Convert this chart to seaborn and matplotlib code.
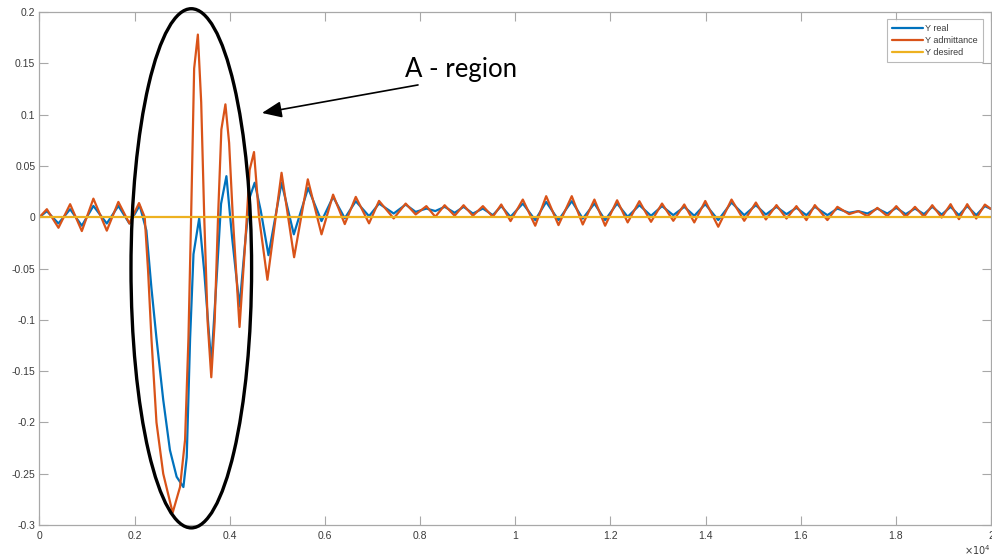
import matplotlib
matplotlib.use("Agg")
import matplotlib.pyplot as plt
from matplotlib.patches import Ellipse
from matplotlib.ticker import FixedLocator, FuncFormatter
import seaborn as sns

# ---------------- data ----------------
x_adm = [0, 155, 399, 644, 890, 1133, 1415, 1658, 1890, 2092, 2212, 2283, 2353, 2459,
         2601, 2799, 2954, 3060, 3131, 3187, 3251, 3329, 3399, 3463, 3534, 3611, 3682,
         3753, 3823, 3908, 3986, 4064, 4205, 4332, 4417, 4509, 4615, 4791,
         5088, 5352, 5640, 5928, 6171, 6417,
         6648, 6927, 7137, 7445, 7697, 7907, 8132, 8320, 8516, 8726, 8914, 9110, 9320,
         9529, 9706, 9901, 10159, 10420, 10650, 10909, 11188, 11419, 11664, 11889, 12141,
         12363, 12609, 12854, 13085, 13322, 13553, 13763, 13994, 14267, 14546, 14813,
         15058, 15268, 15491, 15701, 15910, 16120, 16297, 16561, 16771, 17017, 17212,
         17401, 17611, 17821, 18009, 18207, 18402, 18591, 18765, 18963, 19151, 19326,
         19500, 19689, 19871, 20000]
y_adm = [0.0, 0.0078, -0.0103, 0.0127, -0.0135, 0.0181, -0.0131, 0.0149, -0.0061, 0.0138,
         0.0, -0.0526, -0.118, -0.2, -0.25, -0.288, -0.263, -0.217, -0.118, 0.0, 0.145,
         0.178, 0.112, 0.0, -0.102, -0.156, -0.102, 0.0, 0.0855, 0.110, 0.0724, 0.0,
         -0.107, -0.0197, 0.046, 0.0635, 0.0, -0.061,
         0.0433, -0.039, 0.0369, -0.0167, 0.022, -0.0067, 0.0198, -0.006, 0.0159,
         -0.0012, 0.0133, 0.0027, 0.0108, 0.0004, 0.0117, 0.0014, 0.0117, 0.0014, 0.0108,
         0.0004, 0.0124, -0.0038, 0.0172, -0.0083, 0.0205, -0.0077, 0.0205, -0.0071,
         0.0172, -0.0083, 0.0165, -0.0051, 0.0156, -0.0045, 0.0133, -0.0035, 0.0124,
         -0.0051, 0.0158, -0.0093, 0.0172, -0.0035, 0.0143, -0.0022, 0.0118, -0.0013,
         0.0108, -0.0028, 0.0118, -0.0028, 0.0101, 0.003, 0.0059, 0.001, 0.0091, 0.001,
         0.0108, 0.0004, 0.0101, 0.0004, 0.0117, -0.0003, 0.0127, -0.0019, 0.0127,
         -0.0013, 0.0123, 0.008]

x_real = [0, 155, 399, 644, 890, 1133, 1415, 1658, 1890, 2106, 2247, 2353, 2459, 2601,
          2742, 2883, 3025, 3095, 3166, 3237, 3357, 3463, 3611, 3732, 3816, 3929, 4049,
          4205, 4332, 4424, 4523, 4650, 4813,
          5088, 5346, 5646, 5928, 6171,
          6417, 6648, 6927, 7137, 7445, 7697, 7907, 8132, 8320, 8516, 8726, 8914, 9110,
          9320, 9529, 9706, 9901, 10159, 10420, 10650, 10909, 11188, 11419, 11664, 11889,
          12141, 12363, 12609, 12854, 13085, 13322, 13553, 13763, 13994, 14267, 14546,
          14813, 15058, 15268, 15491, 15701, 15910, 16120, 16297, 16561, 16771, 17017,
          17212, 17401, 17611, 17821, 18009, 18207, 18402, 18591, 18765, 18963, 19151,
          19326, 19500, 19689, 19871, 20000]
y_real = [0.0, 0.0059, -0.0061, 0.0078, -0.0083, 0.011, -0.0061, 0.011, -0.0061, 0.0115,
          -0.013, -0.069, -0.118, -0.178, -0.227, -0.253, -0.263, -0.234, -0.118, -0.036,
          -0.001, -0.053, -0.143, -0.053, 0.013, 0.040, -0.020, -0.087, -0.020, 0.020,
          0.0336, 0.0066, -0.037,
          0.0337, -0.0167, 0.0285, -0.0038, 0.0198, -0.001, 0.0156,
          0.001, 0.0133, 0.0036, 0.0123, 0.0052, 0.0084, 0.006, 0.0101, 0.0043, 0.0101,
          0.0036, 0.0084, 0.002, 0.0108, 0.0004, 0.0133, -0.0028, 0.0149, -0.0028, 0.0156,
          -0.0013, 0.0133, -0.0028, 0.0133, 0.0004, 0.0117, 0.0014, 0.0108, 0.002, 0.0101,
          0.0014, 0.0127, -0.0028, 0.0143, 0.002, 0.0117, 0.0026, 0.0101, 0.003, 0.0091,
          0.002, 0.0101, 0.002, 0.0084, 0.0043, 0.0059, 0.0036, 0.0084, 0.0036, 0.0091,
          0.003, 0.0084, 0.003, 0.0101, 0.0026, 0.0101, 0.002, 0.0108, 0.002, 0.0108, 0.008]

x_des = [0, 20000]
y_des = [0.0, 0.0]

x_ticks = [0, 2000, 4000, 6000, 8000, 10000, 12000, 14000, 16000, 18000, 20000]
y_ticks = [-0.3, -0.25, -0.2, -0.15, -0.1, -0.05, 0.0, 0.05, 0.1, 0.15, 0.2]
series_labels = ["Y real", "Y admittance", "Y desired"]

# ---------------- style ----------------
sns.set_theme(style="white")
plt.rcParams["font.family"] = ["Liberation Sans", "DejaVu Sans"]

BLUE = "#0072BD"
ORANGE = "#D95319"
YELLOW = "#EDB120"
AX_GREY = "#a8a8a8"
TXT_GREY = "#3a3a3a"

fig = plt.figure(figsize=(9.92, 5.58), dpi=100)
ax = fig.add_axes([0.0398, 0.0591, 0.9592, 0.9194])

sns.lineplot(x=x_real, y=y_real, ax=ax, color=BLUE, linewidth=1.6,
             label=series_labels[0], estimator=None, sort=False)
sns.lineplot(x=x_adm, y=y_adm, ax=ax, color=ORANGE, linewidth=1.6,
             label=series_labels[1], estimator=None, sort=False)
sns.lineplot(x=x_des, y=y_des, ax=ax, color=YELLOW, linewidth=1.6,
             label=series_labels[2], estimator=None, sort=False)
for ln in ax.get_lines():
    ln.set_solid_joinstyle("round")

ax.set_xlim(0, 20000)
ax.set_ylim(-0.3, 0.2)
ax.xaxis.set_major_locator(FixedLocator(x_ticks))
ax.yaxis.set_major_locator(FixedLocator(y_ticks))
ax.xaxis.set_major_formatter(FuncFormatter(lambda v, p: "%g" % round(v / 1e4, 2)))
ax.yaxis.set_major_formatter(FuncFormatter(lambda v, p: "%g" % round(v, 2)))
ax.set_xlabel("")
ax.set_ylabel("")

for s in ax.spines.values():
    s.set_color(AX_GREY)
    s.set_linewidth(0.9)
ax.tick_params(axis="both", which="major", direction="in", length=6.5, width=0.8,
               color=AX_GREY, labelcolor=TXT_GREY, labelsize=7.5,
               top=True, right=True, bottom=True, left=True)
ax.tick_params(axis="x", pad=4)
ax.tick_params(axis="y", pad=3)

ax.text(1.0, -0.0585, r"$\times10^{4}$", transform=ax.transAxes, ha="right",
        va="baseline", fontsize=7, color=TXT_GREY)

leg = ax.legend(loc="upper right", bbox_to_anchor=(0.9916, 0.9864), borderaxespad=0,
                fontsize=6.5, frameon=True, fancybox=False, handlelength=3.4,
                handletextpad=0.25, borderpad=0.6, labelspacing=0.3)
leg.get_frame().set_edgecolor(AX_GREY)
leg.get_frame().set_linewidth(0.8)
for t in leg.get_texts():
    t.set_color(TXT_GREY)
for h in leg.get_lines():
    h.set_linewidth(1.6)

# annotation: ellipse, arrow and label
ell = Ellipse((3191, -0.0498), width=2535, height=0.506, fill=False, edgecolor="black",
              linewidth=2.4, clip_on=False, zorder=5)
ax.add_patch(ell)
ax.annotate("", xy=(4677, 0.1016), xytext=(7956, 0.1289),
            arrowprops=dict(arrowstyle="-|>,head_length=0.6,head_width=0.25",
                            color="black", lw=1.2, mutation_scale=20,
                            shrinkA=0, shrinkB=0), zorder=5)
ax.text(7683, 0.137, "A - region", fontsize=18.5, family=["Lato", "DejaVu Sans"],
        color="black", ha="left", va="baseline", zorder=6)

fig.savefig("out.png", dpi=100)
